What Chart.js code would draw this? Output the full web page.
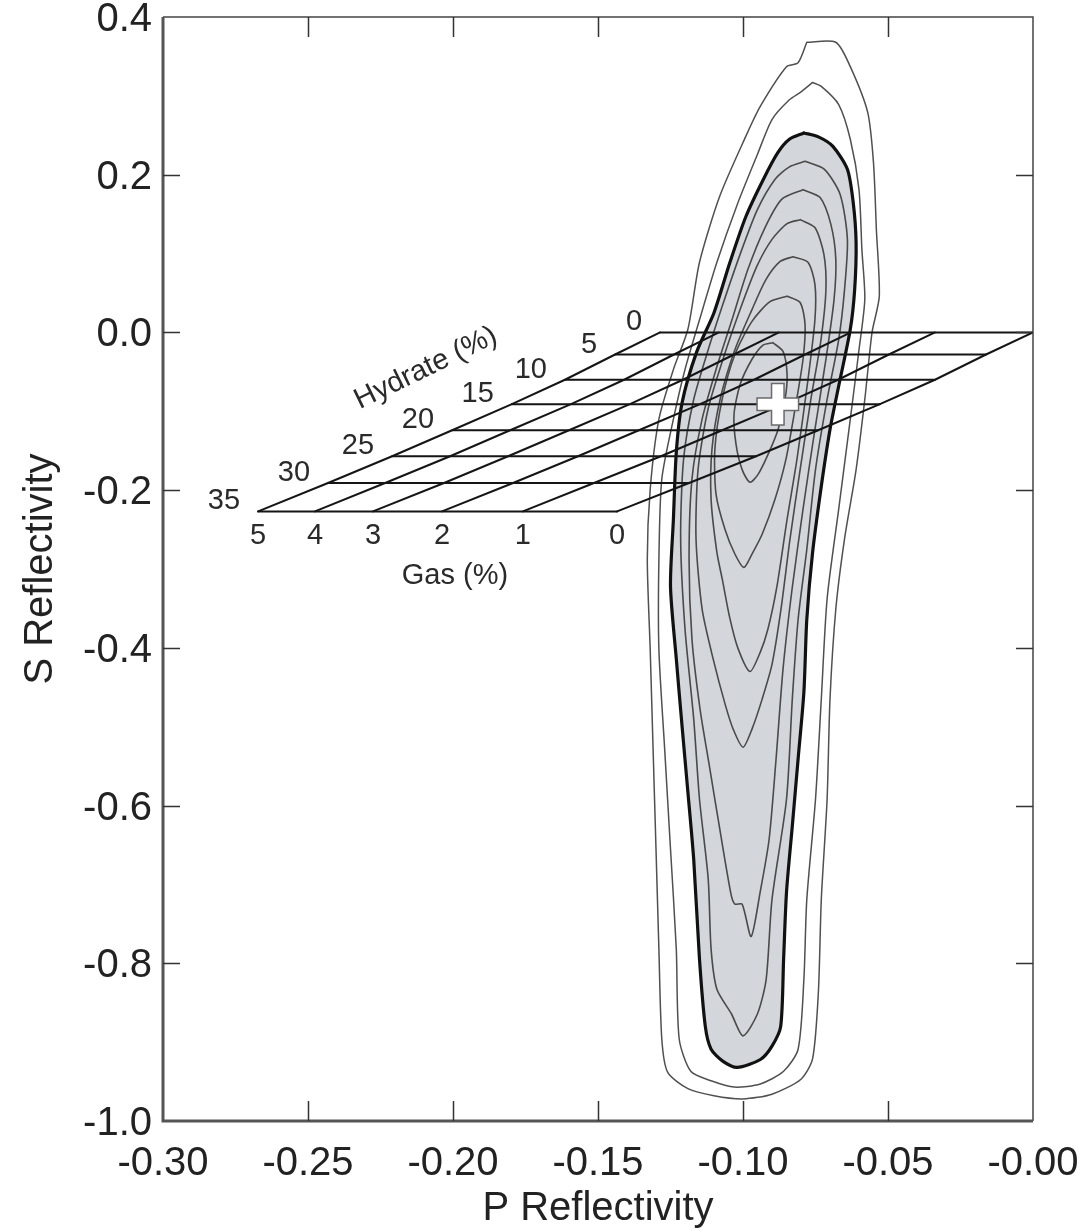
<!DOCTYPE html>
<html><head><meta charset="utf-8">
<script src="https://cdn.jsdelivr.net/npm/chart.js@4"></script>
<style>html,body{margin:0;padding:0;background:#fff}canvas{display:block}</style>
</head><body>
<canvas id="c" width="1088" height="1230"></canvas>
<script>
// ---------- axis ticks ----------
const xTicks = [-0.30, -0.25, -0.20, -0.15, -0.10, -0.05, 0.00];
const xTickLabels = ['-0.30', '-0.25', '-0.20', '-0.15', '-0.10', '-0.05', '-0.00'];
const yTicks = [-1.0, -0.8, -0.6, -0.4, -0.2, 0.0, 0.2, 0.4];
const yTickLabels = ['-1.0', '-0.8', '-0.6', '-0.4', '-0.2', '0.0', '0.2', '0.4'];
const xTitle = 'P Reflectivity';
const yTitle = 'S Reflectivity';

// ---------- rock-physics grid (hydrate rows x gas columns) ----------
const hydrateLevels = [0, 5, 10, 15, 20, 25, 30, 35];
const gasLevels = [5, 4, 3, 2, 1, 0];
const hydrateRowS = [0.000, -0.028, -0.060, -0.091, -0.124, -0.157, -0.191, -0.227];
const gridNodeP = [
  [-0.1286, -0.1083, -0.0876, -0.0628, -0.0338, 0.0000],
  [-0.1441, -0.1238, -0.1031, -0.0786, -0.0497, -0.0162],
  [-0.1614, -0.1410, -0.1207, -0.0962, -0.0672, -0.0338],
  [-0.1797, -0.1593, -0.1390, -0.1148, -0.0859, -0.0528],
  [-0.2003, -0.1803, -0.1600, -0.1359, -0.1072, -0.0741],
  [-0.2210, -0.2010, -0.1810, -0.1569, -0.1283, -0.0955],
  [-0.2431, -0.2234, -0.2031, -0.1793, -0.1514, -0.1186],
  [-0.2672, -0.2476, -0.2276, -0.2038, -0.1759, -0.1434]
];
const hydrateTitle = 'Hydrate (%)';
const gasTitle = 'Gas (%)';

// ---------- marker ----------
const crossP = [-0.088];
const crossS = [-0.091];

// ---------- density contours (outer -> inner) ----------
const c1P = [-0.078,-0.068,-0.063,-0.057,-0.055,-0.054,-0.053,-0.0555,-0.058,-0.061,-0.065,-0.068,-0.070,-0.071,-0.073,-0.074,-0.076,-0.080,-0.090,-0.100,-0.110,-0.119,-0.126,-0.128,-0.129,-0.130,-0.131,-0.132,-0.133,-0.132,-0.129,-0.124,-0.119,-0.115,-0.108,-0.099,-0.094,-0.085,-0.081,-0.078];
const c1S = [0.368,0.368,0.337,0.279,0.215,0.130,0.046,0.000,-0.085,-0.174,-0.262,-0.351,-0.465,-0.592,-0.719,-0.836,-0.921,-0.947,-0.966,-0.972,-0.968,-0.959,-0.938,-0.896,-0.782,-0.655,-0.529,-0.402,-0.288,-0.199,-0.110,-0.047,0.004,0.089,0.173,0.249,0.287,0.337,0.342,0.368];

const c2P = [-0.076,-0.073,-0.067,-0.063,-0.060,-0.059,-0.058,-0.060,-0.063,-0.067,-0.071,-0.073,-0.075,-0.078,-0.079,-0.081,-0.086,-0.094,-0.103,-0.111,-0.118,-0.122,-0.123,-0.125,-0.127,-0.129,-0.129,-0.128,-0.124,-0.120,-0.115,-0.109,-0.102,-0.095,-0.090,-0.084,-0.080,-0.076];
const c2S = [0.317,0.312,0.289,0.245,0.181,0.105,0.042,-0.022,-0.110,-0.224,-0.338,-0.465,-0.592,-0.719,-0.820,-0.909,-0.937,-0.953,-0.957,-0.949,-0.937,-0.896,-0.782,-0.655,-0.529,-0.402,-0.288,-0.186,-0.110,-0.047,0.016,0.089,0.162,0.226,0.270,0.295,0.305,0.317];

const c3P = [-0.079,-0.074,-0.069,-0.064,-0.062,-0.061,-0.0615,-0.063,-0.067,-0.070,-0.073,-0.076,-0.078,-0.079,-0.081,-0.083,-0.085,-0.086,-0.087,-0.090,-0.094,-0.102,-0.107,-0.111,-0.113,-0.115,-0.117,-0.119,-0.121,-0.123,-0.125,-0.124,-0.123,-0.121,-0.116,-0.110,-0.1045,-0.099,-0.093,-0.088,-0.084,-0.079];
const c3S = [0.253,0.248,0.236,0.207,0.165,0.114,0.054,0.004,-0.068,-0.123,-0.195,-0.279,-0.364,-0.456,-0.541,-0.626,-0.710,-0.795,-0.880,-0.905,-0.922,-0.932,-0.924,-0.909,-0.880,-0.795,-0.668,-0.583,-0.500,-0.414,-0.322,-0.237,-0.152,-0.089,-0.025,0.025,0.089,0.147,0.194,0.228,0.245,0.253];

const c4P = [-0.0786,-0.072,-0.0665,-0.064,-0.065,-0.067,-0.071,-0.075,-0.078,-0.081,-0.083,-0.085,-0.090,-0.092,-0.095,-0.100,-0.104,-0.109,-0.111,-0.112,-0.115,-0.117,-0.120,-0.1215,-0.1205,-0.117,-0.112,-0.107,-0.101,-0.095,-0.089,-0.084,-0.0786];
const c4S = [0.217,0.207,0.175,0.118,0.054,-0.009,-0.085,-0.174,-0.275,-0.364,-0.465,-0.592,-0.719,-0.820,-0.864,-0.892,-0.864,-0.833,-0.782,-0.693,-0.592,-0.490,-0.376,-0.262,-0.161,-0.085,-0.022,0.035,0.099,0.156,0.194,0.210,0.217];

const c5P = [-0.0793,-0.0734,-0.0697,-0.068,-0.0686,-0.0714,-0.0752,-0.0793,-0.0831,-0.0862,-0.0886,-0.091,-0.0941,-0.0972,-0.1003,-0.1028,-0.1041,-0.108,-0.1114,-0.1148,-0.1176,-0.1186,-0.1176,-0.1141,-0.1093,-0.1038,-0.0983,-0.0924,-0.0866,-0.0793];
const c5S = [0.181,0.171,0.137,0.093,0.042,-0.034,-0.123,-0.224,-0.326,-0.427,-0.541,-0.643,-0.710,-0.766,-0.725,-0.725,-0.713,-0.630,-0.554,-0.478,-0.389,-0.288,-0.186,-0.110,-0.047,0.016,0.080,0.133,0.169,0.181];

const c6P = [-0.0803,-0.0752,-0.0721,-0.0714,-0.0731,-0.0766,-0.0803,-0.0838,-0.0869,-0.0900,-0.0934,-0.0969,-0.1000,-0.1034,-0.1062,-0.1103,-0.1141,-0.1162,-0.1155,-0.1121,-0.1069,-0.1010,-0.0952,-0.0900,-0.0848,-0.0803];
const c6S = [0.143,0.133,0.099,0.054,-0.009,-0.085,-0.174,-0.262,-0.351,-0.421,-0.465,-0.503,-0.526,-0.503,-0.471,-0.414,-0.351,-0.262,-0.174,-0.098,-0.034,0.029,0.084,0.118,0.138,0.143];

const c7P = [-0.0828,-0.0776,-0.0752,-0.0752,-0.0776,-0.0814,-0.0848,-0.0883,-0.0914,-0.0941,-0.0976,-0.1017,-0.1045,-0.1072,-0.1090,-0.1110,-0.1107,-0.1079,-0.1028,-0.0969,-0.0921,-0.0872,-0.0828];
const c7S = [0.096,0.089,0.061,0.016,-0.060,-0.161,-0.237,-0.322,-0.376,-0.406,-0.430,-0.401,-0.363,-0.312,-0.279,-0.212,-0.148,-0.085,-0.022,0.029,0.067,0.090,0.096];

const c8P = [-0.0848,-0.0803,-0.0786,-0.0793,-0.0821,-0.0852,-0.0890,-0.0934,-0.0969,-0.0997,-0.1028,-0.1062,-0.1093,-0.1097,-0.1072,-0.1028,-0.0969,-0.0907,-0.0848];
const c8S = [0.046,0.038,0.010,-0.034,-0.098,-0.161,-0.212,-0.256,-0.281,-0.298,-0.281,-0.250,-0.205,-0.148,-0.085,-0.028,0.014,0.039,0.046];

const c9P = [-0.0897,-0.0862,-0.0848,-0.0855,-0.0879,-0.0914,-0.0948,-0.0976,-0.1003,-0.1024,-0.1031,-0.1010,-0.0969,-0.0931,-0.0897];
const c9S = [-0.013,-0.024,-0.053,-0.085,-0.123,-0.155,-0.180,-0.190,-0.174,-0.142,-0.104,-0.066,-0.034,-0.016,-0.013];

// ---------- build datasets ----------
const pts = (P, S) => P.map((p, i) => ({x: p, y: S[i]}));
function lineDS(P, S, color, width, extra) {
  return Object.assign({
    data: pts(P, S), showLine: true, borderColor: color, borderWidth: width,
    pointRadius: 0, fill: false, tension: 0.25, borderJoinStyle: 'round', borderCapStyle: 'round'
  }, extra || {});
}

const datasets = [];
// marker (first = drawn on top)
datasets.push({data: pts(crossP, crossS), showLine: false, pointStyle: 'cross', pointRadius: 20,
  pointBorderWidth: 11, pointBorderColor: '#ffffff', pointBackgroundColor: '#ffffff'});
datasets.push({data: pts(crossP, crossS), showLine: false, pointStyle: 'cross', pointRadius: 21.5,
  pointBorderWidth: 14, pointBorderColor: '#6a6a6a', pointBackgroundColor: '#6a6a6a'});
// grid rows (constant hydrate)
hydrateLevels.forEach((h, i) => {
  datasets.push(lineDS(gridNodeP[i], gridNodeP[i].map(() => hydrateRowS[i]), '#151515', 2, {tension: 0}));
});
// grid columns (constant gas)
gasLevels.forEach((g, j) => {
  datasets.push(lineDS(gridNodeP.map(r => r[j]), hydrateRowS, '#151515', 2, {tension: 0}));
});
// inner contours
[[c9P,c9S],[c8P,c8S],[c7P,c7S],[c6P,c6S],[c5P,c5S],[c4P,c4S]].forEach(([P,S]) => {
  datasets.push(lineDS(P, S, '#4a4a4a', 1.6));
});
// bold contour with fill
datasets.push(lineDS(c3P, c3S, '#111111', 3.2, {fill: 'shape', backgroundColor: '#d3d6db'}));
// outer contours
datasets.push(lineDS(c2P, c2S, '#505050', 1.5));
datasets.push(lineDS(c1P, c1S, '#505050', 1.5));

// ---------- overlay: frame, ticks, labels ----------
const overlay = {
  id: 'overlay',
  afterDraw(chart) {
    const {ctx, chartArea: a, scales: {x, y}} = chart;
    ctx.save();
    // frame
    ctx.strokeStyle = '#444'; ctx.lineWidth = 1.5;
    ctx.beginPath();
    ctx.moveTo(a.left, a.top); ctx.lineTo(a.right, a.top); ctx.lineTo(a.right, a.bottom);
    ctx.stroke();
    ctx.strokeStyle = '#555'; ctx.lineWidth = 3;
    ctx.beginPath();
    ctx.moveTo(a.left, a.top); ctx.lineTo(a.left, a.bottom); ctx.lineTo(a.right, a.bottom);
    ctx.stroke();
    // inward ticks
    ctx.strokeStyle = '#333'; ctx.lineWidth = 1.5;
    ctx.beginPath();
    xTicks.forEach(v => {
      const px = Math.round(x.getPixelForValue(v)) + 0.5;
      if (px < a.left + 3 || px > a.right - 3) return;
      ctx.moveTo(px, a.bottom); ctx.lineTo(px, a.bottom - 20);
      ctx.moveTo(px, a.top); ctx.lineTo(px, a.top + 20);
    });
    yTicks.forEach(v => {
      const py = Math.round(y.getPixelForValue(v)) + 0.5;
      if (py < a.top + 3 || py > a.bottom - 3) return;
      ctx.moveTo(a.left, py); ctx.lineTo(a.left + 17, py);
      ctx.moveTo(a.right, py); ctx.lineTo(a.right - 17, py);
    });
    ctx.stroke();
    // tick labels
    ctx.fillStyle = '#222';
    ctx.font = '40px "Liberation Sans", Arial, sans-serif';
    ctx.textBaseline = 'alphabetic';
    ctx.textAlign = 'center';
    xTicks.forEach((v, i) => ctx.fillText(xTickLabels[i], x.getPixelForValue(v), a.bottom + 54));
    ctx.textAlign = 'right';
    yTicks.forEach((v, i) => ctx.fillText(yTickLabels[i], a.left - 11, y.getPixelForValue(v) + 14));
    // axis titles
    ctx.textAlign = 'center';
    ctx.fillText(xTitle, (a.left + a.right) / 2, a.bottom + 99);
    ctx.save();
    ctx.translate(52, (a.top + a.bottom) / 2);
    ctx.rotate(-Math.PI / 2);
    ctx.fillText(yTitle, 0, 0);
    ctx.restore();
    // grid labels
    ctx.fillStyle = '#2a2a2a';
    ctx.font = '29px "Liberation Sans", Arial, sans-serif';
    ctx.textBaseline = 'middle';
    ctx.textAlign = 'right';
    hydrateLevels.forEach((h, i) => {
      const nx = x.getPixelForValue(gridNodeP[i][0]);
      const ny = y.getPixelForValue(hydrateRowS[i]);
      ctx.fillText(String(h), nx - 18, ny - 10);
    });
    ctx.textAlign = 'center';
    const last = gridNodeP.length - 1;
    const by = y.getPixelForValue(hydrateRowS[last]);
    gasLevels.forEach((g, j) => {
      ctx.fillText(String(g), x.getPixelForValue(gridNodeP[last][j]), by + 25);
    });
    ctx.fillText(gasTitle, x.getPixelForValue(gridNodeP[last][3]) + 13, by + 65);
    // rotated hydrate title
    const hx = x.getPixelForValue(gridNodeP[3][0]) - 86;
    const hy = y.getPixelForValue(hydrateRowS[3]) - 36;
    ctx.save();
    ctx.translate(hx, hy);
    ctx.rotate(-26 * Math.PI / 180);
    ctx.fillText(hydrateTitle, 0, 0);
    ctx.restore();
    ctx.restore();
  }
};

new Chart(document.getElementById('c'), {
  type: 'scatter',
  data: {datasets},
  options: {
    responsive: false, animation: false, devicePixelRatio: 1,
    layout: {autoPadding: false, padding: {left: 163, right: 55, top: 17, bottom: 109}},
    plugins: {legend: {display: false}, tooltip: {enabled: false}},
    scales: {
      x: {type: 'linear', min: -0.3, max: 0, ticks: {display: false, stepSize: 0.05},
          grid: {display: false, drawTicks: false}, border: {display: false}},
      y: {type: 'linear', min: -1.0, max: 0.4, ticks: {display: false, stepSize: 0.2},
          grid: {display: false, drawTicks: false}, border: {display: false}}
    }
  },
  plugins: [overlay]
});
</script>
</body></html>
